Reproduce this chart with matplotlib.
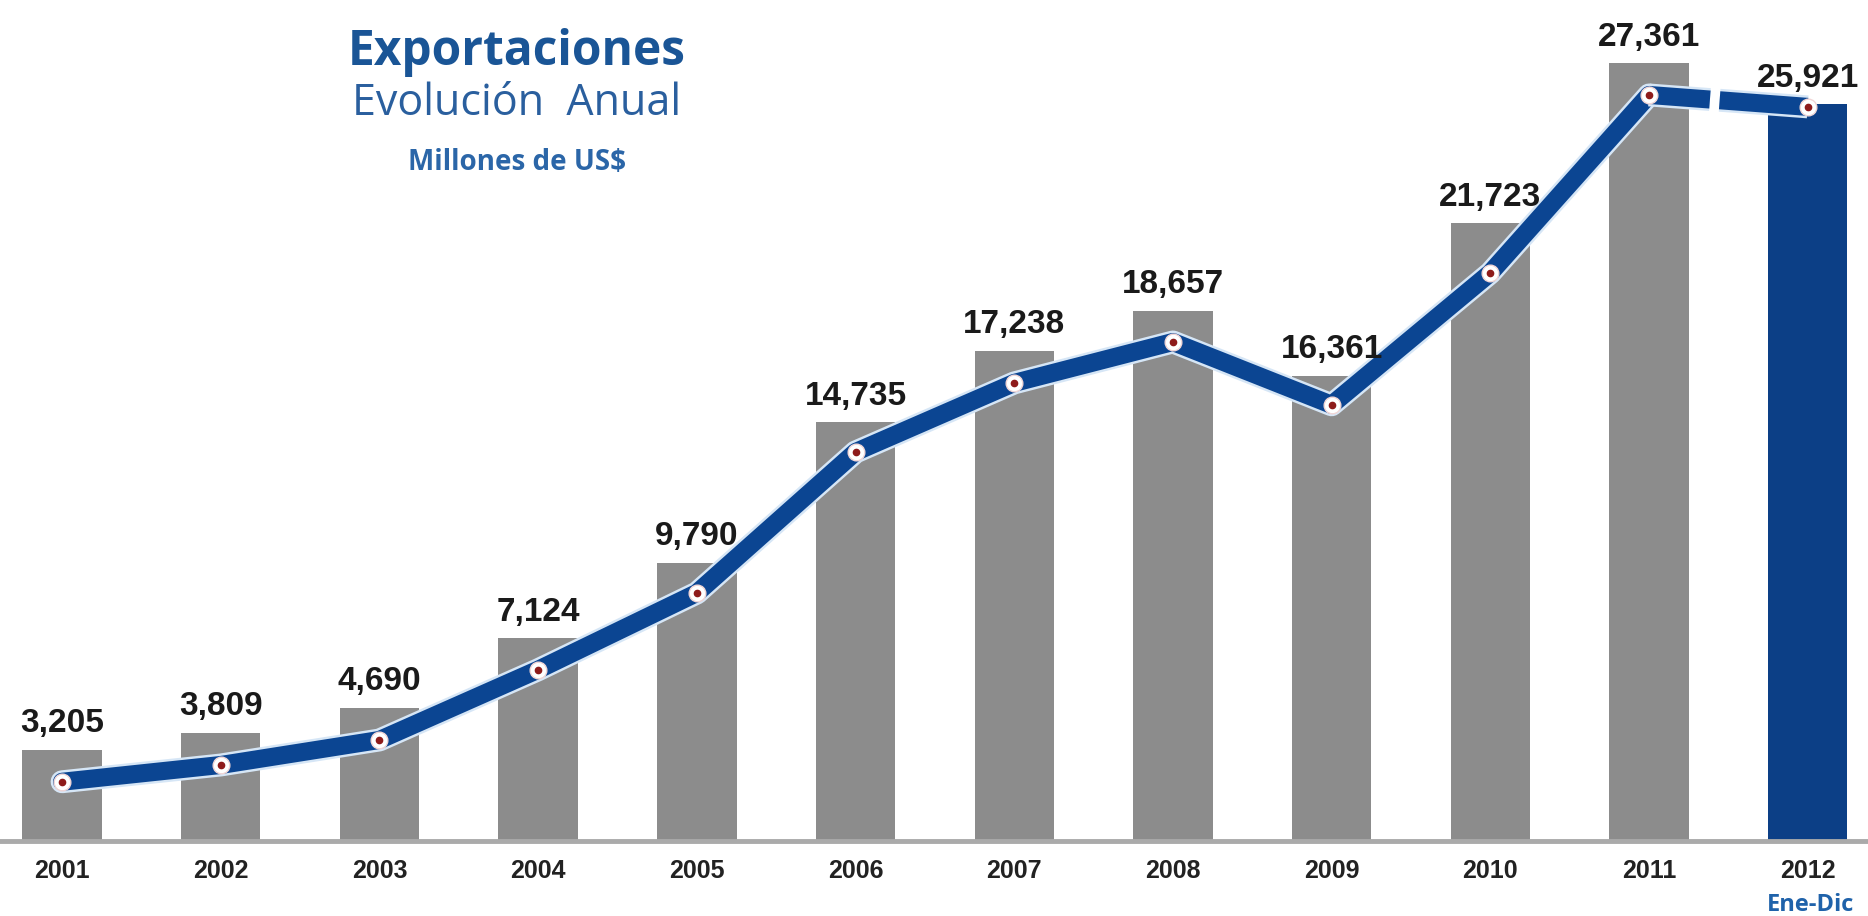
import numpy as np
import matplotlib.pyplot as plt
import matplotlib.patheffects as pe

plt.rcParams["lines.scale_dashes"] = False

# Data
years = ["2001", "2002", "2003", "2004", "2005", "2006",
         "2007", "2008", "2009", "2010", "2011", "2012"]
exports = [3205, 3809, 4690, 7124, 9790, 14735,
           17238, 18657, 16361, 21723, 27361, 25921]
# trend line as drawn in the picture (sits a little below the bar tops)
trend = [2080, 2670, 3550, 6020, 8720, 13680,
         16110, 17550, 15340, 19980, 26240, 25820]

bar_colors = ["#8c8c8c"] * 11 + ["#0c3f86"]
line_color = "#0b4592"
glow = [pe.Stroke(linewidth=16.5, foreground="#d6e6f6"), pe.Normal()]

fig = plt.figure(figsize=(18.68, 9.16), dpi=100)
ax = fig.add_axes([0, 0.082, 1, 0.918])

x = np.arange(len(years))
ax.bar(x, exports, width=0.5, color=bar_colors, zorder=1)

# solid line up to 2011, broken segment 2011 -> 2012
ax.plot(x[:11], trend[:11], color=line_color, linewidth=13,
        solid_joinstyle="round", solid_capstyle="round",
        path_effects=glow, zorder=2)
ax.plot(x[10:], trend[10:], color=line_color, linewidth=13,
        linestyle=(0, (44, 7, 120, 0)), dash_capstyle="butt",
        path_effects=glow, zorder=2)

# markers: white ring with small red centre
ax.plot(x, trend, linestyle="none", marker="o", markersize=12,
        markerfacecolor="white", markeredgecolor="#f1d6d6",
        markeredgewidth=1, zorder=3)
ax.plot(x, trend, linestyle="none", marker="o", markersize=4.5,
        markerfacecolor="#8e1b1b", markeredgecolor="#8e1b1b", zorder=4)

# value labels
for xi, v in zip(x, exports):
    ax.annotate(f"{v:,}", (xi, v), xytext=(0, 12.5), textcoords="offset points",
                ha="center", va="baseline", fontsize=24, fontweight="bold",
                family="Liberation Sans", color="#1a1a1a", zorder=5)

ax.set_xlim(-0.391, 11.38)
ax.set_ylim(0, 29580)
ax.set_xticks(x)
ax.set_xticklabels(years, fontsize=18, fontweight="bold",
                   family="Liberation Sans", color="#222222")
ax.tick_params(axis="x", length=0, pad=13)
ax.set_yticks([])
for s in ["top", "left", "right"]:
    ax.spines[s].set_visible(False)
ax.spines["bottom"].set_color("#aaaaaa")
ax.spines["bottom"].set_linewidth(3.5)
ax.patch.set_alpha(0)

# titles
fig.text(517 / 1868, 1 - 65 / 916, "Exportaciones", ha="center", va="baseline",
         fontsize=34.5, fontweight="bold", family="Open Sans", color="#1a5596")
fig.text(517 / 1868, 1 - 115 / 916, "Evolución  Anual", ha="center", va="baseline",
         fontsize=31, family="Open Sans", color="#2a5f9e")
fig.text(517 / 1868, 1 - 170 / 916, "Millones de US$", ha="center", va="baseline",
         fontsize=20, fontweight="bold", family="Open Sans", color="#2b66a8")
fig.text(1811 / 1868, 1 - 911 / 916, "Ene-Dic", ha="center", va="baseline",
         fontsize=17, fontweight="bold", family="Open Sans", color="#1f62aa")

fig.savefig("out.png", dpi=100)
